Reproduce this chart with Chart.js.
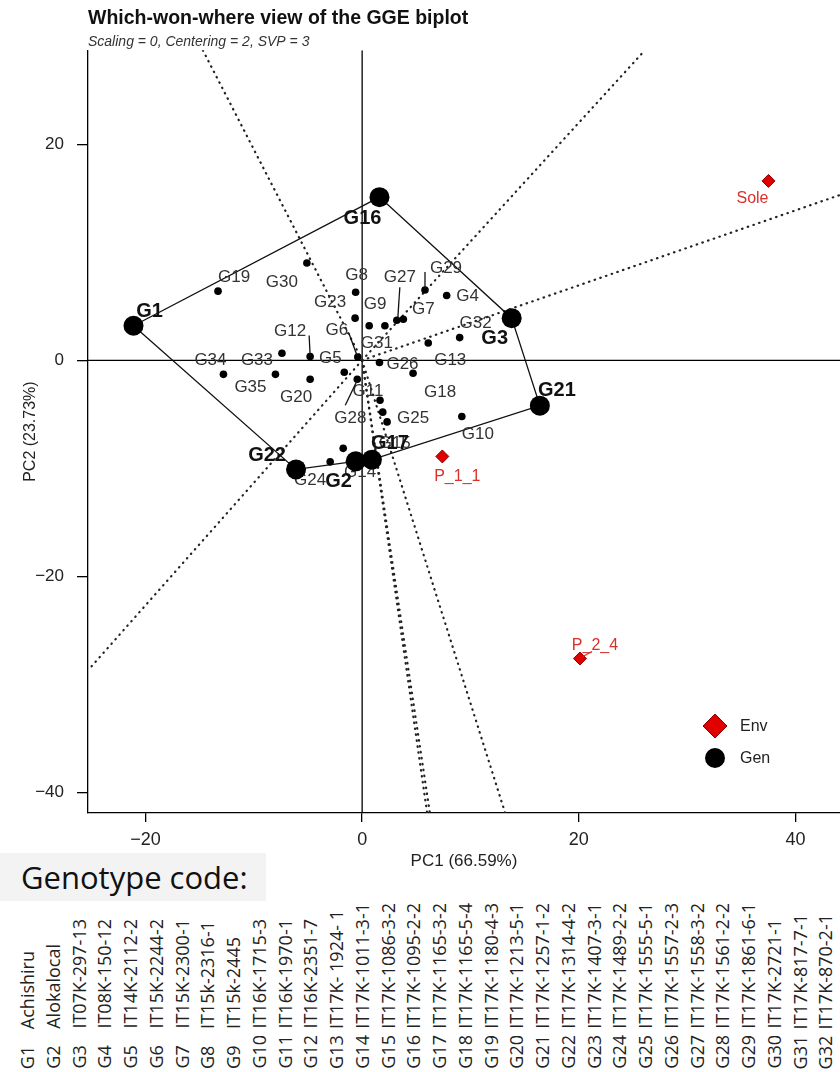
<!DOCTYPE html>
<html>
<head>
<meta charset="utf-8">
<script src="https://cdn.jsdelivr.net/npm/chart.js@4.4.1/dist/chart.umd.min.js"></script>
<style>
  html, body { margin: 0; padding: 0; background: #fff; }
  body { width: 840px; height: 1072px; position: relative; overflow: hidden; }
  #wrap { position: absolute; left: 0; top: 0; width: 840px; height: 880px; }
  #codeBox {
    position: absolute; left: 0; top: 853px; width: 266px; height: 48px;
    background: #f3f3f3; color: #111;
    font: 31px 'Open Sans', sans-serif; line-height: 48px;
    padding-left: 21px; box-sizing: border-box; white-space: nowrap;
  }
  .gcol {
    position: absolute; bottom: 3px; width: 24px;
    writing-mode: vertical-rl; transform: rotate(180deg);
    font: 18px 'Open Sans', sans-serif; line-height: 24px;
    white-space: nowrap; color: #222;
  }
  .gcol .gc { display: inline-block; height: 40px; }
</style>
</head>
<body>
<div id="wrap"><canvas id="biplot" width="840" height="880"></canvas></div>
<div id="codeBox">Genotype code:</div>
<div id="codeList"></div>
<script>
// ==================== DATA ====================
const genotypes = ['G1','G2','G3','G4','G5','G6','G7','G8','G9','G10','G11','G12','G13','G14','G15','G16','G17','G18',
  'G19','G20','G21','G22','G23','G24','G25','G26','G27','G28','G29','G30','G31','G32','G33','G34','G35'];
const genPC1 = [-21.1, -0.6, 13.8, 7.8, -1.65, -0.4, 3.8, -0.6, 0.65, 9.2, 1.65, -4.8, 6.1, -1.75, 1.9, 1.6, 0.9, 4.7,
  -13.3, -4.8, 16.4, -6.1, -0.65, -2.95, 2.3, 1.6, 3.2, -0.45, 5.8, -5.1, 2.1, 9.0, -7.4, -12.8, -8.0];
const genPC2 = [3.2, -9.35, 3.9, 6.0, -1.1, 0.3, 3.8, 6.3, 3.2, -5.2, -3.7, 0.35, 1.6, -8.15, -4.8, 15.1, -9.2, -1.2,
  6.4, -1.75, -4.2, -10.1, 3.9, -9.4, -5.7, -0.2, 3.7, -1.75, 6.5, 9.0, 3.2, 2.1, 0.65, -1.3, -1.3];

const envNames = ['Sole', 'P_1_1', 'P_2_4'];
const envPC1 = [37.5, 7.4, 20.1];
const envPC2 = [16.6, -8.9, -27.6];

// polygon vertices (winners), in drawing order
const hull = ['G1', 'G16', 'G3', 'G21', 'G17', 'G2', 'G22'];

// ends of the dotted rays from the origin (where they leave the plot)
const rayPC1 = [-14.7, 26.1, 44.1, 13.2, 6.0, 6.25, -25.3];
const rayPC2 = [28.7, 28.7, 15.3, -41.9, -41.9, -41.9, -28.7];

const xTicks = [-20, 0, 20, 40];
const yTicks = [-40, -20, 0, 20];

const genoNames = ['Achishiru', 'Alokalocal', 'IT07K-297-13', 'IT08K-150-12', 'IT14K-2112-2', 'IT15K-2244-2',
  'IT15K-2300-1', 'IT15k-2316-1', 'IT15k-2445', 'IT16K-1715-3', 'IT16K-1970-1', 'IT16K-2351-7', 'IT17K- 1924- 1',
  'IT17K-1011-3-1', 'IT17K-1086-3-2', 'IT17K-1095-2-2', 'IT17K-1165-3-2', 'IT17K-1165-5-4', 'IT17K-1180-4-3',
  'IT17K-1213-5-1', 'IT17K-1257-1-2', 'IT17K-1314-4-2', 'IT17K-1407-3-1', 'IT17K-1489-2-2', 'IT17K-1555-5-1',
  'IT17K-1557-2-3', 'IT17K-1558-3-2', 'IT17K-1561-2-2', 'IT17K-1861-6-1', 'IT17K-2721-1', 'IT17K-817-7-1',
  'IT17K-870-2-1'];

// ==================== LAYOUT (label placement, px from point) ====================
const labelOff = {
  G1: [16, -14], G16: [-17, 21], G3: [-17, 20], G21: [17, -15], G17: [18, -16], G2: [-17, 20], G22: [-29, -14],
  G19: [16, -14], G30: [-25, 19], G8: [1, -17], G23: [-25, -16], G9: [6, -21], G27: [3, -43], G7: [20, -10],
  G29: [21, -22], G4: [21, 1], G32: [16, -14], G13: [22, 17], G31: [-8, 18], G6: [-21, -27], G12: [-20, -25],
  G5: [-14, -14], G33: [-25, 7], G34: [-13, -14], G35: [-25, 13], G20: [-14, 18], G26: [23, 2], G18: [27, 19],
  G11: [-12, -9], G28: [-7, 39], G25: [26, -4], G15: [12, 31], G10: [16, 18], G14: [17, 24], G24: [-20, 18]
};
const envOff = { Sole: [-16, 18], P_1_1: [15, 20], P_2_4: [15, -13] };
const leaders = { G27: [3, -33, 1, -2], G29: [0, -18, 0, -1], G12: [-1, -21, 0, -1], G6: [-9, -24, -1, -2],
  G28: [-12, 26, 0, 1], P_2_4: [3, -2, 12, -7] };

const xMin = -25.3, xMax = 44.1, yMin = -41.9, yMax = 28.7;
const PLOT_FONT = '"Liberation Sans", Arial, sans-serif';

// ==================== BUILD ====================
const idx = {};
genotypes.forEach((g, i) => idx[g] = i);
const isVertex = g => hull.includes(g);

const smallPts = [], bigPts = [];
genotypes.forEach((g, i) => {
  const p = { x: genPC1[i], y: genPC2[i], name: g };
  (isVertex(g) ? bigPts : smallPts).push(p);
});
const hullPts = hull.concat([hull[0]]).map(g => ({ x: genPC1[idx[g]], y: genPC2[idx[g]] }));
const envPts = envNames.map((n, i) => ({ x: envPC1[i], y: envPC2[i], name: n }));

const lineDs = (data, extra) => Object.assign({
  data, showLine: true, pointRadius: 0, borderColor: '#000', borderWidth: 1.3, fill: false
}, extra);

const datasets = [
  lineDs([{ x: xMin, y: 0 }, { x: xMax, y: 0 }], { order: 9 }),
  lineDs([{ x: 0, y: yMin }, { x: 0, y: yMax }], { order: 9 })
];
rayPC1.forEach((x, i) => {
  datasets.push(lineDs([{ x: 0, y: 0 }, { x, y: rayPC2[i] }],
    { order: 8, borderWidth: 2.2, borderDash: [0.5, 5.5], borderCapStyle: 'round', borderColor: '#222' }));
});
datasets.push(lineDs(hullPts, { order: 7, borderColor: '#111' }));
datasets.push({ id: 'small', data: smallPts, order: 5, pointRadius: 3.8, backgroundColor: '#000', borderWidth: 0 });
datasets.push({ id: 'big', data: bigPts, order: 3, pointRadius: 10, backgroundColor: '#000', borderWidth: 0 });
datasets.push({ id: 'env', data: envPts, order: 1, pointStyle: 'rectRot', pointRadius: 6.5,
  backgroundColor: '#e00000', borderColor: '#8a0000', borderWidth: 1 });

function drawLabels(ctx, chart, pts, font, color, offs) {
  const xs = chart.scales.x, ys = chart.scales.y;
  ctx.save();
  ctx.font = font;
  ctx.fillStyle = color;
  ctx.textAlign = 'center';
  ctx.textBaseline = 'middle';
  pts.forEach(p => {
    const px = xs.getPixelForValue(p.x), py = ys.getPixelForValue(p.y);
    const o = offs[p.name] || [0, -14];
    const l = leaders[p.name];
    if (l) {
      ctx.strokeStyle = color === '#333' ? '#111' : color;
      ctx.lineWidth = 1.3;
      ctx.beginPath();
      ctx.moveTo(px + l[0], py + l[1]);
      ctx.lineTo(px + l[2], py + l[3]);
      ctx.stroke();
    }
    ctx.fillText(p.name, px + o[0], py + o[1]);
  });
  ctx.restore();
}

const biplotLabels = {
  id: 'biplotLabels',
  beforeDatasetDraw(chart, args) {
    const ds = chart.data.datasets[args.index];
    if (ds.id === 'big') drawLabels(chart.ctx, chart, smallPts, '17px ' + PLOT_FONT, '#333', labelOff);
  },
  afterDatasetDraw(chart, args) {
    const ds = chart.data.datasets[args.index];
    if (ds.id === 'big') drawLabels(chart.ctx, chart, bigPts, 'bold 20px ' + PLOT_FONT, '#111', labelOff);
    if (ds.id === 'env') drawLabels(chart.ctx, chart, envPts, '16px ' + PLOT_FONT, '#d9302c', envOff);
  },
  afterDraw(chart) {
    // legend box in the lower right of the plot
    const { ctx, chartArea } = chart;
    const lx = chartArea.right - 125, ly = chartArea.bottom - 87;
    ctx.save();
    ctx.fillStyle = '#e00000';
    ctx.strokeStyle = '#8a0000';
    ctx.lineWidth = 1;
    ctx.beginPath();
    ctx.moveTo(lx, ly - 12); ctx.lineTo(lx + 12, ly); ctx.lineTo(lx, ly + 12); ctx.lineTo(lx - 12, ly);
    ctx.closePath(); ctx.fill(); ctx.stroke();
    ctx.fillStyle = '#000';
    ctx.beginPath(); ctx.arc(lx, ly + 32, 10, 0, Math.PI * 2); ctx.fill();
    ctx.fillStyle = '#222';
    ctx.font = '16px ' + PLOT_FONT;
    ctx.textBaseline = 'middle';
    ctx.fillText('Env', lx + 25, ly + 1);
    ctx.fillText('Gen', lx + 25, ly + 33);
    ctx.restore();
  }
};

const minus = v => v < 0 ? '\u2212' + Math.abs(v) : String(v);

new Chart(document.getElementById('biplot'), {
  type: 'scatter',
  data: { datasets },
  options: {
    responsive: false,
    animation: false,
    events: [],
    layout: { padding: 0, autoPadding: false },
    plugins: {
      legend: { display: false },
      tooltip: { enabled: false },
      title: {
        display: true, text: 'Which-won-where view of the GGE biplot', align: 'start', fullSize: false,
        color: '#111', font: { family: PLOT_FONT, size: 19.5, weight: 'bold' }, padding: { top: 7, bottom: 0 }
      },
      subtitle: {
        display: true, text: 'Scaling = 0, Centering = 2, SVP = 3', align: 'start', fullSize: false,
        color: '#333', font: { family: PLOT_FONT, size: 14, style: 'italic' }, padding: { top: 3, bottom: 0 }
      }
    },
    scales: {
      x: {
        type: 'linear', min: xMin, max: xMax,
        afterBuildTicks: s => { s.ticks = xTicks.map(v => ({ value: v })); },
        afterFit: s => { s.height = 67; s.paddingLeft = 0; s.paddingRight = 0; },
        grid: { display: true, drawOnChartArea: false, drawTicks: true, tickLength: 9, color: '#000', lineWidth: 1.3 },
        border: { display: true, color: '#000', width: 1.3 },
        ticks: { color: '#222', padding: 7, font: { family: PLOT_FONT, size: 18 }, callback: minus },
        title: { display: true, text: 'PC1 (66.59%)', color: '#222', font: { family: PLOT_FONT, size: 17 },
          padding: { top: 0, bottom: 8 } }
      },
      y: {
        type: 'linear', min: yMin, max: yMax,
        afterBuildTicks: s => { s.ticks = yTicks.map(v => ({ value: v })); },
        afterFit: s => { s.width = 88; s.paddingTop = 0; s.paddingBottom = 0; },
        grid: { display: true, drawOnChartArea: false, drawTicks: true, tickLength: 11, color: '#000', lineWidth: 1.3 },
        border: { display: true, color: '#000', width: 1.3 },
        ticks: { color: '#222', padding: 13, font: { family: PLOT_FONT, size: 17 }, callback: minus },
        title: { display: true, text: 'PC2 (23.73%)', color: '#222', font: { family: PLOT_FONT, size: 16 },
          padding: { top: 21, bottom: 0 } }
      }
    }
  },
  plugins: [biplotLabels]
});

// ==================== GENOTYPE CODE LIST ====================
const list = document.getElementById('codeList');
genoNames.forEach((nm, i) => {
  const d = document.createElement('div');
  d.className = 'gcol';
  d.style.left = (27 + i * 25.75 - 12) + 'px';
  d.innerHTML = '<span class="gc">G' + (i + 1) + '</span>' + nm;
  list.appendChild(d);
});
</script>
</body>
</html>
